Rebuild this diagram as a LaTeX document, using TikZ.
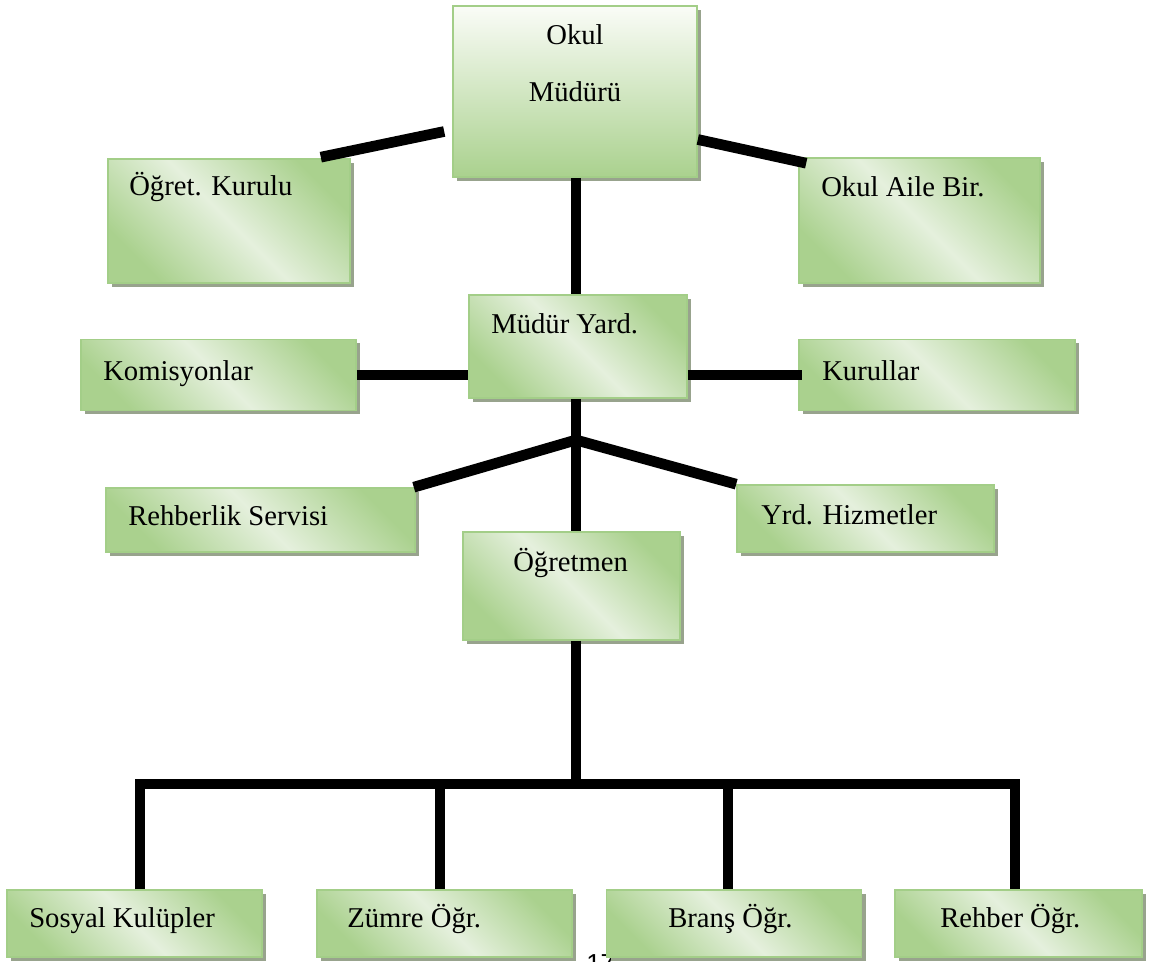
\documentclass[tikz,border=0pt]{standalone}
\usepackage{fontspec}
\setmainfont{Liberation Serif}
\newfontfamily\pagefont{Liberation Sans}
\usetikzlibrary{shadows, positioning}
\definecolor{boxgreen}{RGB}{170,209,142}
\definecolor{boxlight}{RGB}{229,240,221}
\definecolor{boxtop}{RGB}{250,252,247}
\definecolor{boxedge}{RGB}{163,206,136}
\definecolor{boxshadow}{RGB}{152,163,141}
\tikzset{
	box/.style={draw=boxedge, line width=1.2pt, inner sep=0pt,
		top color=boxgreen, bottom color=boxgreen, middle color=boxlight, shading angle=-45,
		general shadow={fill=boxshadow, shadow xshift=3pt, shadow yshift=-3pt}}, % green box with a flat shadow
	topbox/.style={draw=boxedge, line width=1.2pt, inner sep=0pt,
		top color=boxtop, bottom color=boxgreen, shading angle=0,
		general shadow={fill=boxshadow, shadow xshift=3pt, shadow yshift=-3pt}},
	lowbox/.style={box, minimum width=191.25pt, minimum height=50.25pt},
	lbl/.style={font=\fontsize{21.5}{26}\selectfont, inner sep=0pt, anchor=base west},
	link/.style={line width=8pt, black},
	pgnum/.style={font=\pagefont\fontsize{19.5}{22}\selectfont, inner sep=0pt, anchor=north west},
}
\begin{document}
\begin{tikzpicture}[x=0.75pt, y=-0.75pt]
	\useasboundingbox (0,0) rectangle (1150,962);

	% page number, half hidden behind the boxes
	\node[pgnum] (pg) at (586,954) {17};

	% boxes
	\node[topbox, minimum width=183pt, minimum height=128.25pt] (mudur) at (575,91.5) {};
	\node[box, minimum width=181.5pt, minimum height=93pt] (ogk) at (229,221) {};
	\node[box, minimum width=180.75pt, minimum height=93.75pt] (oab) at (919.5,220.5) {};
	\node[box, minimum width=163.5pt, minimum height=77.25pt] (yard) at (578,346.5) {};
	\node[box, minimum width=206.25pt, minimum height=53.25pt] (kom) at (218.5,375) {};
	\node[box, minimum width=207pt, minimum height=53.25pt] (kur) at (937,375) {};
	\node[box, minimum width=231.75pt, minimum height=48pt] (reh) at (260.5,520) {};
	\node[box, minimum width=192.75pt, minimum height=50.25pt] (yrd) at (865.5,518.5) {};
	\node[box, minimum width=162.75pt, minimum height=81pt] (ogr) at (571.5,586) {};
	\node[lowbox] (sos) at (134.5,923.5) {};
	\node[lowbox] (zum) at (444.5,923.5) {};
	\node[lowbox] (bra) at (734,923.5) {};
	\node[lowbox, minimum width=185.25pt] (rob) at (1018.5,923.5) {};

	% texts
	\node[lbl, anchor=base] (t-okul) at (575,45) {Okul};
	\node[lbl, anchor=base] (t-mudur) at (575,102) {Müdürü};
	\node[lbl] (t-ogk) at (129,196) {Öğret. Kurulu};
	\node[lbl] (t-oab) at (821,197) {Okul Aile Bir.};
	\node[lbl] (t-yard) at (491,334) {Müdür Yard.};
	\node[lbl] (t-kom) at (103,381) {Komisyonlar};
	\node[lbl] (t-kur) at (822,381) {Kurullar};
	\node[lbl] (t-reh) at (128,525) {Rehberlik Servisi};
	\node[lbl] (t-yrd) at (761,524) {Yrd. Hizmetler};
	\node[lbl] (t-ogr) at (513,571) {Öğretmen};
	\node[lbl] (t-sos) at (29,927) {Sosyal Kulüpler};
	\node[lbl] (t-zum) at (347,927) {Zümre Öğr.};
	\node[lbl] (t-bra) at (668,927) {Branş Öğr.};
	\node[lbl] (t-rob) at (940,927) {Rehber Öğr.};

	% connectors
	\coordinate (fork) at (576,440);
	\coordinate (barL) at (140,784);
	\coordinate (barM) at (576,784);
	\coordinate (barZ) at (440,784);
	\coordinate (barB) at (728,784);
	\coordinate (barR) at (1015,784);

	\draw[link] ([shift={(-8,40)}]mudur.west) -- ([shift={(-30,-1)}]ogk.north east);
	\draw[link] ([shift={(0,48)}]mudur.east) -- ([shift={(8,6)}]oab.north west);
	\draw[link] (mudur.south -| fork) -- (yard.north -| fork);
	\draw[link] (kom.east) -- (kom.east -| yard.west);
	\draw[link] (yard.east |- kur.west) -- ([xshift=3pt]kur.west);
	\draw[link] (yard.south -| fork) -- (fork) -- (ogr.north -| fork);
	\draw[link] (fork) -- ([xshift=-1.5pt]reh.north east);
	\draw[link] (fork) -- (yrd.north west);
	\draw[link] (ogr.south -| barM) -- (barM);
	\draw[link] (sos.north -| barL) -- (barL) -- (barR) -- (rob.north -| barR);
	\draw[link] (barZ) -- (zum.north -| barZ);
	\draw[link] (barB) -- (bra.north -| barB);

\end{tikzpicture}
\end{document}
